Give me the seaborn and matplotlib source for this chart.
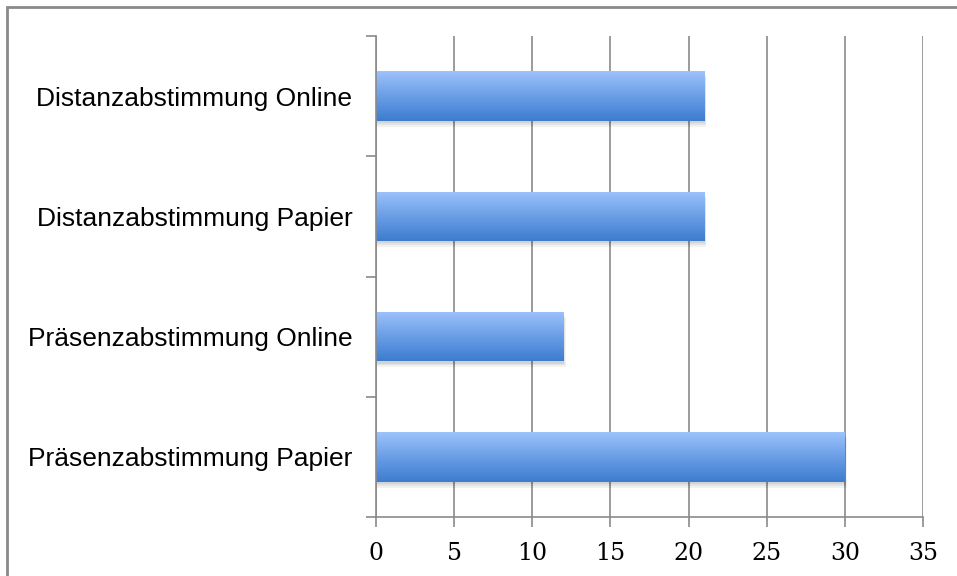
import numpy as np
import pandas as pd
import matplotlib
matplotlib.use("Agg")
import matplotlib.pyplot as plt
import seaborn as sns
from matplotlib.patches import Rectangle
from matplotlib.colors import LinearSegmentedColormap

categories = ["Distanzabstimmung Online", "Distanzabstimmung Papier",
              "Präsenzabstimmung Online", "Präsenzabstimmung Papier"]
values = [21, 21, 12, 30]
xticks = [0, 5, 10, 15, 20, 25, 30, 35]

df = pd.DataFrame({"Kategorie": categories, "Wert": values})

sns.set_style("white")
fig = plt.figure(figsize=(9.57, 5.76), dpi=100)
ax = fig.add_axes([376/957, 1-517/576, (923-376)/957, (517-36)/576])

sns.barplot(data=df, y="Kategorie", x="Wert", orient="h", ax=ax,
            width=0.41, color="#6a9ee8", order=categories)

cmap = LinearSegmentedColormap.from_list("g", ["#9cc3fc", "#6a9ee6", "#3d7ccf"])
grad = np.linspace(0, 1, 256).reshape(-1, 1)
for p in list(ax.patches):
    x0, y0 = p.get_x(), p.get_y()
    w, h = p.get_width(), p.get_height()
    # soft shadow
    for k, a in enumerate([0.07, 0.06, 0.05]):
        off = 0.02 + 0.015 * k
        sh = Rectangle((x0, y0 + off), w + 0.05 + 0.04 * k, h, facecolor="#000000",
                       alpha=a, edgecolor="none", zorder=1.5)
        ax.add_patch(sh)
    p.set_facecolor("none")
    p.set_edgecolor("none")
    p.set_zorder(3)
    im = ax.imshow(grad, cmap=cmap, aspect="auto",
                   extent=[x0, x0 + w, y0 + h, y0], origin="upper", zorder=2)
    im.set_clip_path(p)

ax.set_xlim(0, 35)
ax.set_ylim(3.5, -0.5)
ax.set_xticks(xticks)
ax.set_xticklabels([str(t) for t in xticks], fontfamily="DejaVu Serif", fontsize=17, color="black")
ax.set_yticks([-0.5, 0.5, 1.5, 2.5, 3.5], minor=False)
ax.set_yticklabels([])
ax.set_yticks([0, 1, 2, 3], minor=True)
ax.set_yticklabels(categories, minor=True, fontfamily="Liberation Sans", fontsize=19, color="black")
ax.tick_params(axis="y", which="minor", length=0, pad=17)
ax.tick_params(axis="y", which="major", length=7, width=1.2, color="#8a8a8a", direction="out", left=True)
ax.tick_params(axis="x", length=7, width=1.2, color="#8a8a8a", direction="out", bottom=True, pad=11)
ax.grid(axis="x", color="#8a8a8a", linewidth=1.2, zorder=0)
ax.set_axisbelow(True)
for s in ["top", "right"]:
    ax.spines[s].set_visible(False)
for s in ["left", "bottom"]:
    ax.spines[s].set_color("#8a8a8a")
    ax.spines[s].set_linewidth(1.2)
ax.set_xlabel("")
ax.set_ylabel("")

border = Rectangle((7/957, -0.1), 1.2, 1.1 - 7/576, transform=fig.transFigure,
                   fill=False, edgecolor="#8a8a8a", linewidth=2, clip_on=False)
fig.patches.append(border)

fig.savefig("out.png", dpi=100)
